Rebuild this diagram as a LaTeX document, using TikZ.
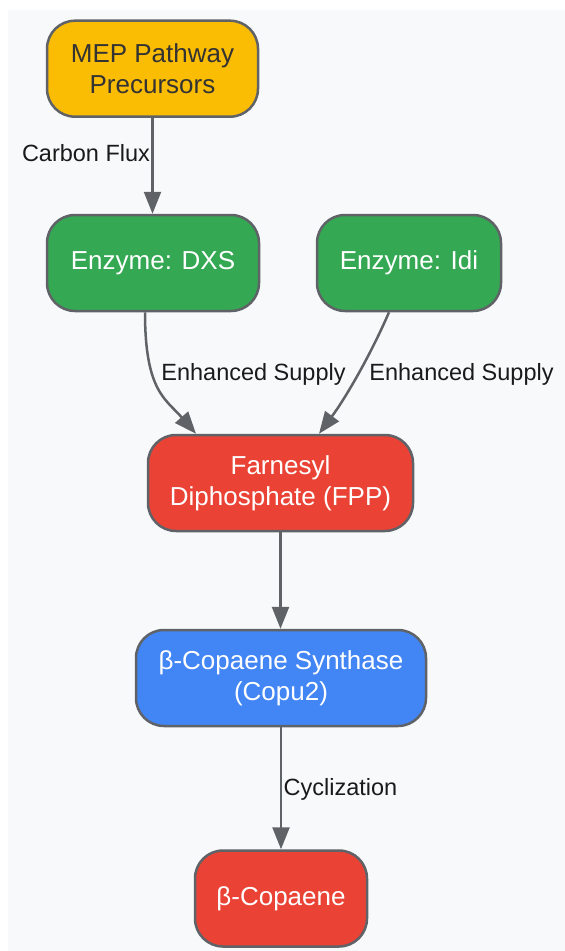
\documentclass[tikz,border=0pt]{standalone}
\usepackage{fontspec}
\setmainfont{Liberation Sans}
\usetikzlibrary{arrows.meta}
\definecolor{bg}{HTML}{F8F9FA}
\definecolor{edgec}{HTML}{5F6368}
\definecolor{yel}{HTML}{FBBC04}
\definecolor{grn}{HTML}{34A853}
\definecolor{rd}{HTML}{EA4335}
\definecolor{blu}{HTML}{4285F4}
\definecolor{darktext}{HTML}{333333}
\definecolor{labeltext}{HTML}{1A1A1A}
\begin{document}
\begin{tikzpicture}[x=1pt,y=-1pt,
  box/.style={draw=edgec, line width=2.5pt, rounded corners=28pt, minimum height=96pt,
    align=center, font=\fontsize{26}{31}\selectfont, text=white, inner sep=0pt},
  elabel/.style={font=\fontsize{23.5}{28}\selectfont, text=labeltext, inner sep=0pt},
  arr/.style={draw=edgec, line width=2.5pt, -{Triangle[length=22pt,width=17pt]}}]
\useasboundingbox (0,0) rectangle (565,951);
\fill[bg] (8,10) rectangle (565,951);
\node[box, fill=yel, text=darktext, minimum width=211pt] (mep) at (152.5,68.7) {MEP Pathway\\Precursors};
\node[box, fill=grn, minimum width=212pt] (dxs) at (153,263) {Enzyme: DXS};
\node[box, fill=grn, minimum width=184pt] (idi) at (409,263) {Enzyme: Idi};
\node[box, fill=rd, minimum width=265pt] (fpp) at (280.5,483) {Farnesyl\\Diphosphate (FPP)};
\node[box, fill=blu, minimum width=290pt] (syn) at (281,678) {β-Copaene Synthase\\(Copu2)};
\node[box, fill=rd, minimum width=172pt] (cop) at (281,898.5) {β-Copaene};
\draw[arr] (mep.south) -- (mep.south |- dxs.north);
\draw[arr] ([xshift=-8pt]dxs.south) .. controls ([xshift=-8pt,yshift=-79pt]dxs.south) and ([xshift=-115pt,yshift=35pt]fpp.north) .. ([xshift=-84.5pt]fpp.north);
\draw[arr] ([xshift=-20pt]idi.south) .. controls ([xshift=-39pt,yshift=-44pt]idi.south) and ([xshift=64.5pt,yshift=35pt]fpp.north) .. ([xshift=38.5pt]fpp.north);
\draw[arr] (fpp.south) -- (fpp.south |- syn.north);
\draw[arr] (syn.south) -- (syn.south |- cop.north);
\node[elabel] (l1) at (86,153) {Carbon Flux};
\node[elabel] (l2) at (253.5,374) {Enhanced Supply};
\node[elabel] (l3) at (461.5,374) {Enhanced Supply};
\node[elabel] (l4) at (340.5,789) {Cyclization};
\end{tikzpicture}
\end{document}
